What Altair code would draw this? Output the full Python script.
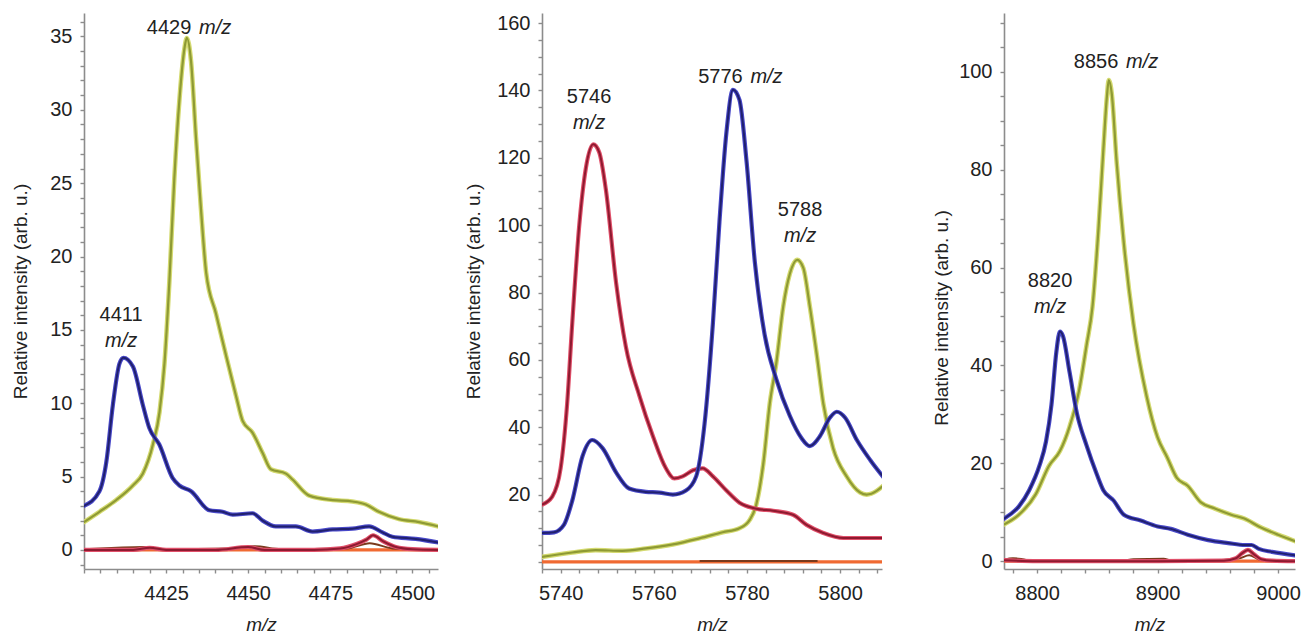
import altair as alt
import pandas as pd

FONT = "Liberation Sans"
TXT = "#222222"
AXC = "#8c8c8c"

# ---------------- Panel 1 (4400-4508 m/z) ----------------
p1_blue_mz = [4400, 4404.7, 4406.8, 4408.8, 4410.8, 4412, 4414.9, 4417.9, 4419.9, 4422.9, 4427, 4429,
              4432.6, 4438.2, 4442.2, 4445.3, 4451.3, 4454.4, 4458.4, 4464.5, 4469.6, 4475.7, 4481.7,
              4486.8, 4490.9, 4493.9, 4501, 4508]
p1_blue_int = [3.0, 4.0, 6.0, 9.9, 12.7, 13.1, 12.5, 9.9, 8.3, 7.2, 4.9, 4.4, 4.0, 2.7, 2.6, 2.4, 2.5,
               2.0, 1.6, 1.6, 1.25, 1.4, 1.45, 1.6, 1.2, 0.9, 0.75, 0.5]
p1_olive_mz = [4400, 4404.7, 4409.8, 4414.9, 4417.9, 4421, 4423, 4424.5, 4426, 4427.5, 4429.1, 4430.6,
               4431.3, 4432.6, 4434.1, 4435.6, 4437.2, 4440.2, 4443.2, 4446.3, 4448.3, 4451.3, 4454.4,
               4456.9, 4461.5, 4463.5, 4468.6, 4475.7, 4481.7, 4485.8, 4489.8, 4495.9, 4502, 4508]
p1_olive_int = [1.9, 2.6, 3.4, 4.4, 5.2, 7.2, 9.4, 12.7, 18.3, 25.3, 30.8, 34.2, 34.9, 33.3, 28.1, 23.3,
                18.9, 16.1, 13.3, 10.5, 8.8, 8.0, 6.6, 5.5, 5.2, 4.8, 3.7, 3.4, 3.3, 3.1, 2.6, 2.1, 1.9, 1.6]
p1_red_mz = [4400, 4415, 4420, 4425, 4440, 4450, 4455, 4470, 4478, 4483, 4486, 4488, 4491, 4495, 4500, 4508]
p1_red_int = [0, 0, 0.15, 0, 0, 0.2, 0, 0, 0.1, 0.4, 0.7, 1.0, 0.6, 0.2, 0.05, 0]
p1_brown_mz = [4400, 4410, 4418, 4424, 4445, 4452, 4460, 4480, 4487, 4494, 4508]
p1_brown_int = [0.05, 0.15, 0.2, 0.05, 0.1, 0.25, 0.05, 0.1, 0.45, 0.1, 0]
p1_orange_mz = [4400, 4508]
p1_orange_int = [0, 0]
p1_x_ticks = list(range(4400, 4510, 5))
p1_x_labels = [4425, 4450, 4475, 4500]
p1_y_ticks = list(range(-1, 37, 1))
p1_y_labels = [0, 5, 10, 15, 20, 25, 30, 35]
p1_ann_inline = ["4429"]
p1_ann_inline_mz = [4425.9]
p1_ann_inline_int = [35.6]
p1_ann_stack = ["4411"]
p1_ann_stack_mz = [4411.3]
p1_ann_stack_int = [16.0]

# ---------------- Panel 2 (5736-5809 m/z) ----------------
p2_red_mz = [5736, 5738.2, 5740, 5741.4, 5742.5, 5744, 5745.4, 5747, 5748.3, 5749.7, 5751.9, 5754,
             5756.9, 5759.8, 5762.6, 5764.4, 5766.2, 5768.4, 5770.5, 5772.7, 5775.6, 5778.4, 5782,
             5785.6, 5789.9, 5792.8, 5796.4, 5800.7, 5804.3, 5810]
p2_red_int = [17.0, 19.4, 27.8, 47, 71, 100, 116.8, 124, 121.6, 110.7, 83, 63.9, 49.4, 37.4, 27.8, 24.8,
              25.4, 27.2, 27.8, 25.4, 21.2, 17.6, 15.8, 15.2, 14.0, 11, 8.6, 7.1, 7.1, 7.1]
p2_blue_mz = [5736, 5738.6, 5740.7, 5742.5, 5744.7, 5746.8, 5749, 5751.9, 5754.7, 5758.3, 5761.2, 5764.1,
              5766.9, 5769.1, 5770.9, 5772.7, 5774.1, 5775.6, 5777, 5778.4, 5779.9, 5781.7, 5783.8,
              5786.3, 5789.2, 5791.7, 5793.5, 5795.7, 5797.8, 5799.3, 5801.1, 5803.6, 5806.5, 5810]
p2_blue_int = [8.6, 8.8, 11, 18.2, 31.4, 36.2, 33.8, 26.6, 21.8, 20.8, 20.6, 20, 21.2, 25.4, 41, 71, 101,
               127.6, 140.2, 137.2, 119.2, 89, 67.5, 54.3, 43.4, 36.8, 34.4, 37.4, 42.8, 44.6, 42.8, 36.2,
               30.2, 24]
p2_olive_mz = [5736, 5742.5, 5747.5, 5753.3, 5758.3, 5764.1, 5769.8, 5774.8, 5778.4, 5780.6, 5782, 5783.5,
               5784.9, 5786.3, 5787.8, 5789.2, 5790.8, 5792.1, 5793.5, 5795, 5796.4, 5798.5, 5801.4,
               5804.3, 5805.7, 5810]
p2_olive_int = [1.5, 2.8, 3.5, 3.3, 4.0, 5.2, 7.0, 8.8, 10.0, 12.5, 17, 29, 47, 59, 75.9, 85.5, 89.7, 87.3,
                75.9, 61.5, 47, 33.8, 25.4, 20.6, 20, 23.5]
p2_brown_mz = [5770, 5795]
p2_brown_int = [0.3, 0.3]
p2_orange_mz = [5736, 5810]
p2_orange_int = [0, 0]
p2_x_ticks = list(range(5736, 5810, 4))
p2_x_labels = [5740, 5760, 5780, 5800]
p2_y_ticks = list(range(0, 165, 5))
p2_y_labels = [20, 40, 60, 80, 100, 120, 140, 160]
p2_ann_inline = ["5776"]
p2_ann_inline_mz = [5774.3]
p2_ann_inline_int = [143.9]
p2_ann_stack = ["5746", "5788"]
p2_ann_stack_mz = [5746.1, 5791.4]
p2_ann_stack_int = [138.2, 104.6]

# ---------------- Panel 3 (8773-9014 m/z) ----------------
p3_blue_mz = [8772.6, 8785, 8793.5, 8802, 8807.5, 8812, 8816, 8819, 8821.5, 8827, 8833, 8841, 8849.5,
              8855, 8863.5, 8872, 8886, 8900, 8911, 8925, 8942, 8958.5, 8972.5, 8978, 8984, 8995, 9014]
p3_blue_int = [8.7, 11.2, 14.5, 19.5, 24.5, 32, 42.7, 46.9, 46, 38.6, 30.3, 23.7, 17.8, 14.5, 12.4, 9.5,
               8.3, 7.1, 6.6, 5.4, 4.3, 3.7, 3.3, 3.3, 2.5, 1.9, 1.2]
p3_olive_mz = [8772.6, 8785, 8799, 8810, 8819, 8827, 8835, 8841, 8846, 8851, 8855, 8858, 8859.5, 8862,
               8866, 8872, 8880, 8891, 8900, 8908, 8916, 8925, 8936, 8947, 8961, 8972, 8984, 9000, 9014]
p3_olive_int = [7.5, 9.5, 13.7, 19.5, 22.5, 27.5, 35, 44, 52, 68, 84, 95, 98.3, 95.5, 81.7, 65, 48.5,
                33.6, 25.3, 21.2, 17, 15.4, 12, 10.8, 9.5, 8.7, 7.1, 5.4, 4.1]
p3_red_mz = [8772.6, 8800, 8900, 8955, 8965, 8970, 8975, 8980, 8986, 8995, 9014]
p3_red_int = [0.2, 0, 0, 0.1, 0.6, 1.6, 2.3, 1.4, 0.4, 0.1, 0]
p3_brown_mz = [8772.6, 8780, 8788, 8795, 8870, 8880, 8905, 8912, 8950, 8968, 8976, 8985, 9014]
p3_brown_int = [0.3, 0.6, 0.4, 0.1, 0.1, 0.4, 0.5, 0.1, 0.2, 0.6, 1.2, 0.3, 0]
p3_orange_mz = [8772.6, 9014]
p3_orange_int = [0, 0]
p3_x_ticks = list(range(8780, 9015, 20))
p3_x_labels = [8800, 8900, 9000]
p3_y_ticks = list(range(0, 112, 5))
p3_y_labels = [0, 20, 40, 60, 80, 100]
p3_ann_inline = ["8856"]
p3_ann_inline_mz = [8849.0]
p3_ann_inline_int = [102.0]
p3_ann_stack = ["8820"]
p3_ann_stack_mz = [8810.8]
p3_ann_stack_int = [57.3]

# ---------------- styles ----------------
STYLE = {
    "orange": [("#f06a32", 3.2)],
    "brown": [("#7a3a1c", 2.0)],
    "red": [("#e0506a", 4.2), ("#8e1a30", 2.0)],
    "olive": [("#d4da70", 4.6), ("#8e9a34", 2.2)],
    "blue": [("#4848c8", 4.2), ("#20206e", 2.0)],
}


def label_expr(vals):
    return "indexof([" + ",".join(str(v) for v in vals) + "], datum.value) >= 0 ? datum.label : ''"


def make_panel(width, xdom, ydom, xticks, xlabels, yticks, ylabels, series,
               inline, stack, title_pad, title_y=None):
    xaxis = alt.Axis(values=xticks, labelExpr=label_expr(xlabels), format="d",
                     title="m/z", titleFontStyle="italic", titlePadding=12,
                     labelPadding=10, tickSize=4, grid=False)
    yargs = dict(values=yticks, labelExpr=label_expr(ylabels), format="d",
                 title="Relative intensity (arb. u.)", titlePadding=title_pad,
                 labelPadding=8, tickSize=4, grid=False)
    if title_y is not None:
        yargs["titleY"] = title_y
    yaxis = alt.Axis(**yargs)
    xenc = alt.X("mz:Q", scale=alt.Scale(domain=xdom, nice=False, zero=False), axis=xaxis)
    yenc = alt.Y("intensity:Q", scale=alt.Scale(domain=ydom, nice=False, zero=False), axis=yaxis)

    layers = []
    for name, mz, inten in series:
        df = pd.DataFrame({"mz": mz, "intensity": inten})
        for color, w in STYLE[name]:
            layers.append(
                alt.Chart(df).mark_line(color=color, strokeWidth=w, interpolate="monotone",
                                        clip=True, strokeCap="round", strokeJoin="round")
                .encode(x=xenc, y=yenc)
            )
    lab_in, mz_in, int_in = inline
    df_in = pd.DataFrame({"mz": mz_in, "intensity": int_in, "label": lab_in})
    lab_st, mz_st, int_st = stack
    df_st = pd.DataFrame({"mz": mz_st, "intensity": int_st, "label": lab_st})
    tbase = dict(font=FONT, fontSize=20, color=TXT, baseline="middle")
    for df in (df_in, df_st):
        layers.append(alt.Chart(df).mark_text(align="center", **tbase)
                      .encode(x=xenc, y=yenc, text="label:N"))
    layers.append(alt.Chart(df_in).mark_text(align="left", dx=30, fontStyle="italic", **tbase)
                  .encode(x=xenc, y=yenc, text=alt.value("m/z")))
    layers.append(alt.Chart(df_st).mark_text(align="center", dy=26, fontStyle="italic", **tbase)
                  .encode(x=xenc, y=yenc, text=alt.value("m/z")))
    return alt.layer(*layers).properties(width=width, height=556)


p1 = make_panel(354, [4400, 4507.8], [-1.3, 36.6], p1_x_ticks, p1_x_labels, p1_y_ticks, p1_y_labels,
                [("orange", p1_orange_mz, p1_orange_int), ("brown", p1_brown_mz, p1_brown_int),
                 ("red", p1_red_mz, p1_red_int), ("olive", p1_olive_mz, p1_olive_int),
                 ("blue", p1_blue_mz, p1_blue_int)],
                (p1_ann_inline, p1_ann_inline_mz, p1_ann_inline_int),
                (p1_ann_stack, p1_ann_stack_mz, p1_ann_stack_int), 19.5)
p2 = make_panel(340, [5736, 5809], [-2.1, 163], p2_x_ticks, p2_x_labels, p2_y_ticks, p2_y_labels,
                [("orange", p2_orange_mz, p2_orange_int), ("brown", p2_brown_mz, p2_brown_int),
                 ("olive", p2_olive_mz, p2_olive_int), ("red", p2_red_mz, p2_red_int),
                 ("blue", p2_blue_mz, p2_blue_int)],
                (p2_ann_inline, p2_ann_inline_mz, p2_ann_inline_int),
                (p2_ann_stack, p2_ann_stack_mz, p2_ann_stack_int), 13.3)
p3 = make_panel(291, [8772.6, 9014], [-1.6, 112], p3_x_ticks, p3_x_labels, p3_y_ticks, p3_y_labels,
                [("orange", p3_orange_mz, p3_orange_int), ("brown", p3_brown_mz, p3_brown_int),
                 ("red", p3_red_mz, p3_red_int), ("olive", p3_olive_mz, p3_olive_int),
                 ("blue", p3_blue_mz, p3_blue_int)],
                (p3_ann_inline, p3_ann_inline_mz, p3_ann_inline_int),
                (p3_ann_stack, p3_ann_stack_mz, p3_ann_stack_int), 7.3, title_y=304.5)

inner = alt.hconcat(p1, p2, spacing=26)
chart = (
    alt.hconcat(inner, p3, spacing=50)
    .properties(padding={"left": 3, "top": 5, "right": 5, "bottom": 0})
    .configure_view(stroke=None)
    .configure_axis(domainColor=AXC, domainWidth=1.6, tickColor=AXC, tickWidth=1.4,
                    labelFont=FONT, labelFontSize=20, labelColor=TXT,
                    titleFont=FONT, titleFontSize=19, titleFontWeight="normal", titleColor=TXT)
)

chart.save("out.html", embed_options={"renderer": "svg", "actions": False})
